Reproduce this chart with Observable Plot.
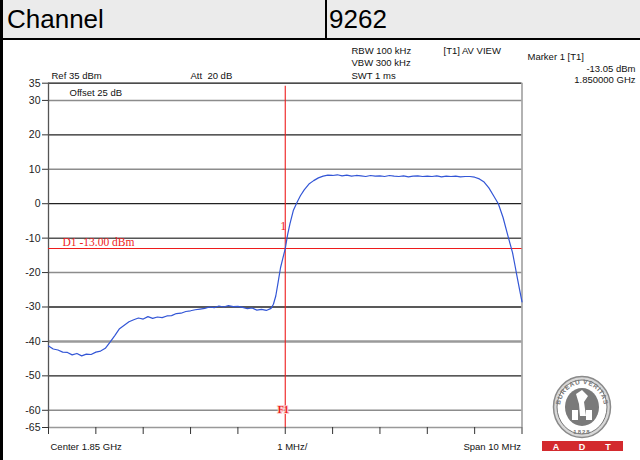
<!DOCTYPE html>
<html>
<head>
<meta charset="utf-8">
<script src="https://cdn.jsdelivr.net/npm/d3@7"></script>
<script src="https://cdn.jsdelivr.net/npm/@observablehq/plot@0.6"></script>
<style>
  html, body { margin: 0; padding: 0; background: #fff; }
  #page { position: relative; width: 640px; height: 460px; overflow: hidden; background: #fff; font-family: "Liberation Sans", Arial, sans-serif; }
  #leftbar { position: absolute; left: 0; top: 0; width: 3px; height: 460px; background: #000; }
  #header { position: absolute; left: 3px; top: 0; width: 637px; height: 38px; background: #ebebeb; border-bottom: 2px solid #000; }
  #header .cell { position: absolute; top: 0; height: 38px; line-height: 38px; font-size: 26px; color: #000; }
  #divider { position: absolute; left: 322px; top: 0; width: 2px; height: 38px; background: #000; }
  #chart { position: absolute; left: 0; top: 39px; }
  #logo { position: absolute; left: 538px; top: 372px; }
</style>
</head>
<body>
<div id="page">
  <div id="header">
    <div class="cell" style="left:4px">Channel</div>
    <div id="divider"></div>
    <div class="cell" style="left:326px">9262</div>
  </div>
  <div id="leftbar"></div>
  <div id="chart"></div>
  <svg id="logo" width="90" height="84" viewBox="0 0 90 84">
    <defs>
      <path id="arcTop" d="M 22 36 A 22 24 0 0 1 66 36"></path>
    </defs>
    <ellipse cx="44" cy="35" rx="28.5" ry="30.5" fill="#d8d8d8" stroke="#8a8a8a" stroke-width="1.5"></ellipse>
    <ellipse cx="44" cy="35" rx="25" ry="27" fill="#fff" stroke="#777" stroke-width="1"></ellipse>
    <ellipse cx="44" cy="35" rx="17" ry="19" fill="#7a7a7a"></ellipse>
    <text font-family="Liberation Sans, Arial" font-size="6.5" font-weight="bold" fill="#777" letter-spacing="0.6"><textPath href="#arcTop" startOffset="50%" text-anchor="middle">BUREAU VERITAS</textPath></text>
    <text x="44" y="62" font-family="Liberation Sans, Arial" font-size="6" font-weight="bold" fill="#777" text-anchor="middle" letter-spacing="1">1828</text>
    <path d="M38 22 L44 18 L50 24 L46 30 L48 44 L42 44 L41 32 Z" fill="#fff"></path>
    <rect x="34" y="38" width="6" height="10" fill="#fff"></rect>
    <rect x="48" y="38" width="6" height="10" fill="#fff"></rect>
    <rect x="4" y="69" width="81" height="10" fill="#d32a2e"></rect>
    <text x="18" y="77.5" font-family="Liberation Sans, Arial" font-size="9" font-weight="bold" fill="#fff" text-anchor="middle">A</text>
    <text x="44" y="77.5" font-family="Liberation Sans, Arial" font-size="9" font-weight="bold" fill="#fff" text-anchor="middle">D</text>
    <text x="70" y="77.5" font-family="Liberation Sans, Arial" font-size="9" font-weight="bold" fill="#fff" text-anchor="middle">T</text>
  </svg>
</div>
<script>
// ---- data ----
// frequency offset from centre 1.85 GHz, in MHz
const freqMHz = [
  -5.0, -4.9, -4.8, -4.7, -4.6, -4.5, -4.4, -4.3, -4.2, -4.1,
  -4.0, -3.9, -3.8, -3.7, -3.6, -3.5, -3.4, -3.3, -3.2, -3.1,
  -3.0, -2.9, -2.8, -2.7, -2.6, -2.5, -2.4, -2.3, -2.2, -2.1,
  -2.0, -1.9, -1.8, -1.7, -1.6, -1.5, -1.4, -1.3, -1.2, -1.1,
  -1.0, -0.9, -0.8, -0.7, -0.6, -0.5, -0.4, -0.3, -0.25, -0.2,
  -0.15, -0.1, -0.05, 0.0, 0.05, 0.1, 0.17, 0.25, 0.32, 0.4,
  0.5, 0.6, 0.7, 0.8, 0.9, 1.0, 1.1, 1.2, 1.3, 1.4,
  1.5, 1.6, 1.7, 1.8, 1.9, 2.0, 2.1, 2.2, 2.3, 2.4,
  2.5, 2.6, 2.7, 2.8, 2.9, 3.0, 3.1, 3.2, 3.3, 3.4,
  3.5, 3.6, 3.7, 3.8, 3.9, 4.0, 4.1, 4.2, 4.3, 4.4,
  4.5, 4.6, 4.7, 4.8, 4.85, 4.9, 4.95, 5.0
];
// trace level, dBm
const levelDbm = [
  -41.3, -42.2, -42.5, -43.1, -43.2, -43.9, -43.5, -44.2, -43.7, -43.8,
  -43.1, -42.8, -42.0, -40.2, -38.3, -36.3, -35.3, -34.3, -33.7, -33.2,
  -33.5, -32.8, -33.3, -32.9, -33.1, -32.6, -32.5, -31.9, -31.8, -31.3,
  -31.1, -30.8, -30.6, -30.4, -30.0, -30.2, -29.7, -30.0, -29.6, -29.9,
  -29.8, -30.1, -30.5, -30.3, -30.9, -30.7, -31.0, -30.4, -29.2, -26.8,
  -22.8, -18.6, -15.8, -13.05, -9.0, -5.8, -2.0, 0.4, 2.3, 4.0,
  5.7, 6.7, 7.5, 8.0, 8.3, 8.2, 8.4, 8.1, 8.3, 8.0,
  8.2, 8.1, 7.9, 8.2, 8.0, 8.1, 7.9, 8.2, 8.0, 7.9,
  8.1, 7.8, 8.0, 8.1, 7.9, 8.0, 7.9, 8.1, 7.8, 8.0,
  7.9, 8.0, 7.8, 7.9, 7.9, 7.7, 7.2, 6.3, 4.6, 2.3,
  0.0, -4.0, -9.2, -14.2, -17.8, -21.5, -25.0, -28.5
];
const yTicks = [35, 30, 20, 10, 0, -10, -20, -30, -40, -50, -60, -65];
const xTicks = [-5, -4, -3, -2, -1, 0, 1, 2, 3, 4, 5];
const gridDark = [20, 0, -30, -50];
const gridMid = [-10];
const gridLight = [30, 10, -20, -60];
const gridThick = [-40];
const displayLine = [-13];
const markerFreq = [0];
const markerLabel = "1";
const displayLabel = "D1 -13.00 dBm";
const topLeftTexts = ["Ref 35 dBm", "Att  20 dB"];
const offsetText = "Offset 25 dB";
const settingsTexts = ["RBW 100 kHz", "VBW 300 kHz", "SWT 1 ms"];
const traceText = "[T1] AV VIEW";
const markerTexts = ["Marker 1 [T1]", "-13.05 dBm", "1.850000 GHz"];
const bottomTexts = ["Center 1.85 GHz", "1 MHz/", "Span 10 MHz"];

const trace = freqMHz.map((f, i) => ({f, dbm: levelDbm[i]}));
const RED = "#ee1c1c";
const sans = "Liberation Sans, Arial, sans-serif";
const serif = "Liberation Serif, Times New Roman, serif";
const fs = 9.5;

// annotation text placed relative to the frame's top-left corner
function note(str, dx, dy, anchor = "start") {
  return Plot.text([str], {frameAnchor: "top-left", dx, dy, text: d => d, textAnchor: anchor, lineAnchor: "bottom", fontSize: fs, fill: "#111"});
}

const chart = Plot.plot({
  width: 640,
  height: 421,
  marginTop: 43.7,
  marginBottom: 33,
  marginLeft: 48,
  marginRight: 118.5,
  x: {domain: [-5, 5], axis: null, label: null},
  y: {domain: [-65, 35], axis: null, label: null},
  style: {fontFamily: sans, background: "transparent", overflow: "visible"},
  marks: [
    Plot.ruleY(gridLight, {stroke: "#8c8c8c", strokeWidth: 1.5}),
    Plot.ruleY(gridThick, {stroke: "#9a9a9a", strokeWidth: 2.5}),
    Plot.ruleY(gridMid, {stroke: "#555", strokeWidth: 1.5}),
    Plot.ruleY(gridDark, {stroke: "#222", strokeWidth: 1.3}),
    Plot.ruleY([35], {stroke: "#111", strokeWidth: 1.3}),
    Plot.ruleY([-65], {stroke: "#999", strokeWidth: 1.5}),
    Plot.ruleX([-5], {stroke: "#555", strokeWidth: 1.3}),
    Plot.ruleX([5], {stroke: "#999", strokeWidth: 1.5}),
    Plot.axisY({ticks: yTicks, tickSize: 6, tickPadding: 2, fontSize: 10.5, stroke: "#333", color: "#222", tickFormat: d => String(d), label: null}),
    Plot.axisX({ticks: xTicks, tickSize: 7, tickFormat: () => "", stroke: "#333", anchor: "bottom", tickPadding: 0, label: null}),
    Plot.ruleY(displayLine, {stroke: RED, strokeWidth: 1.1}),
    Plot.ruleX(markerFreq, {stroke: RED, strokeWidth: 1.1, y1: -65, y2: 35, insetBottom: -3}),
    Plot.line(trace, {x: "f", y: "dbm", stroke: "#3356d6", strokeWidth: 1.2, curve: "linear"}),
    Plot.text([displayLabel], {x: -5, y: -13, dx: 14, dy: -2, text: d => d, textAnchor: "start", lineAnchor: "bottom", fill: RED, fontFamily: serif, fontSize: 11.5}),
    Plot.text([markerLabel], {x: 0, y: -6.5, dx: -2, text: d => d, textAnchor: "middle", fill: RED, fontFamily: serif, fontSize: 12}),
    Plot.text(["F1"], {x: 0, y: -60, dx: -2, text: d => d, textAnchor: "middle", fill: RED, fontFamily: serif, fontSize: 10, fontWeight: "bold", stroke: "#fbd0d0", strokeWidth: 2, paintOrder: "stroke"}),
    note(topLeftTexts[0], 3, -4.5),
    note(topLeftTexts[1], 142, -4.5),
    note(offsetText, 21, 12.5),
    note(settingsTexts[0], 303, -29.5),
    note(settingsTexts[1], 303, -17),
    note(settingsTexts[2], 303, -4.5),
    note(traceText, 395, -29.5),
    note(markerTexts[0], 479, -23.5),
    note(markerTexts[1], 587, -11, "end"),
    note(markerTexts[2], 587, 0, "end"),
    Plot.text([bottomTexts[0]], {x: -5, y: -65, dx: 2, dy: 22, text: d => d, textAnchor: "start", lineAnchor: "bottom", fontSize: fs, fill: "#111"}),
    Plot.text([bottomTexts[1]], {x: 0, y: -65, dx: -8, dy: 22, text: d => d, textAnchor: "start", lineAnchor: "bottom", fontSize: fs, fill: "#111"}),
    Plot.text([bottomTexts[2]], {x: 5, y: -65, dx: -1, dy: 22, text: d => d, textAnchor: "end", lineAnchor: "bottom", fontSize: fs, fill: "#111"})
  ]
});
document.getElementById("chart").appendChild(chart);
</script>
</body>
</html>
